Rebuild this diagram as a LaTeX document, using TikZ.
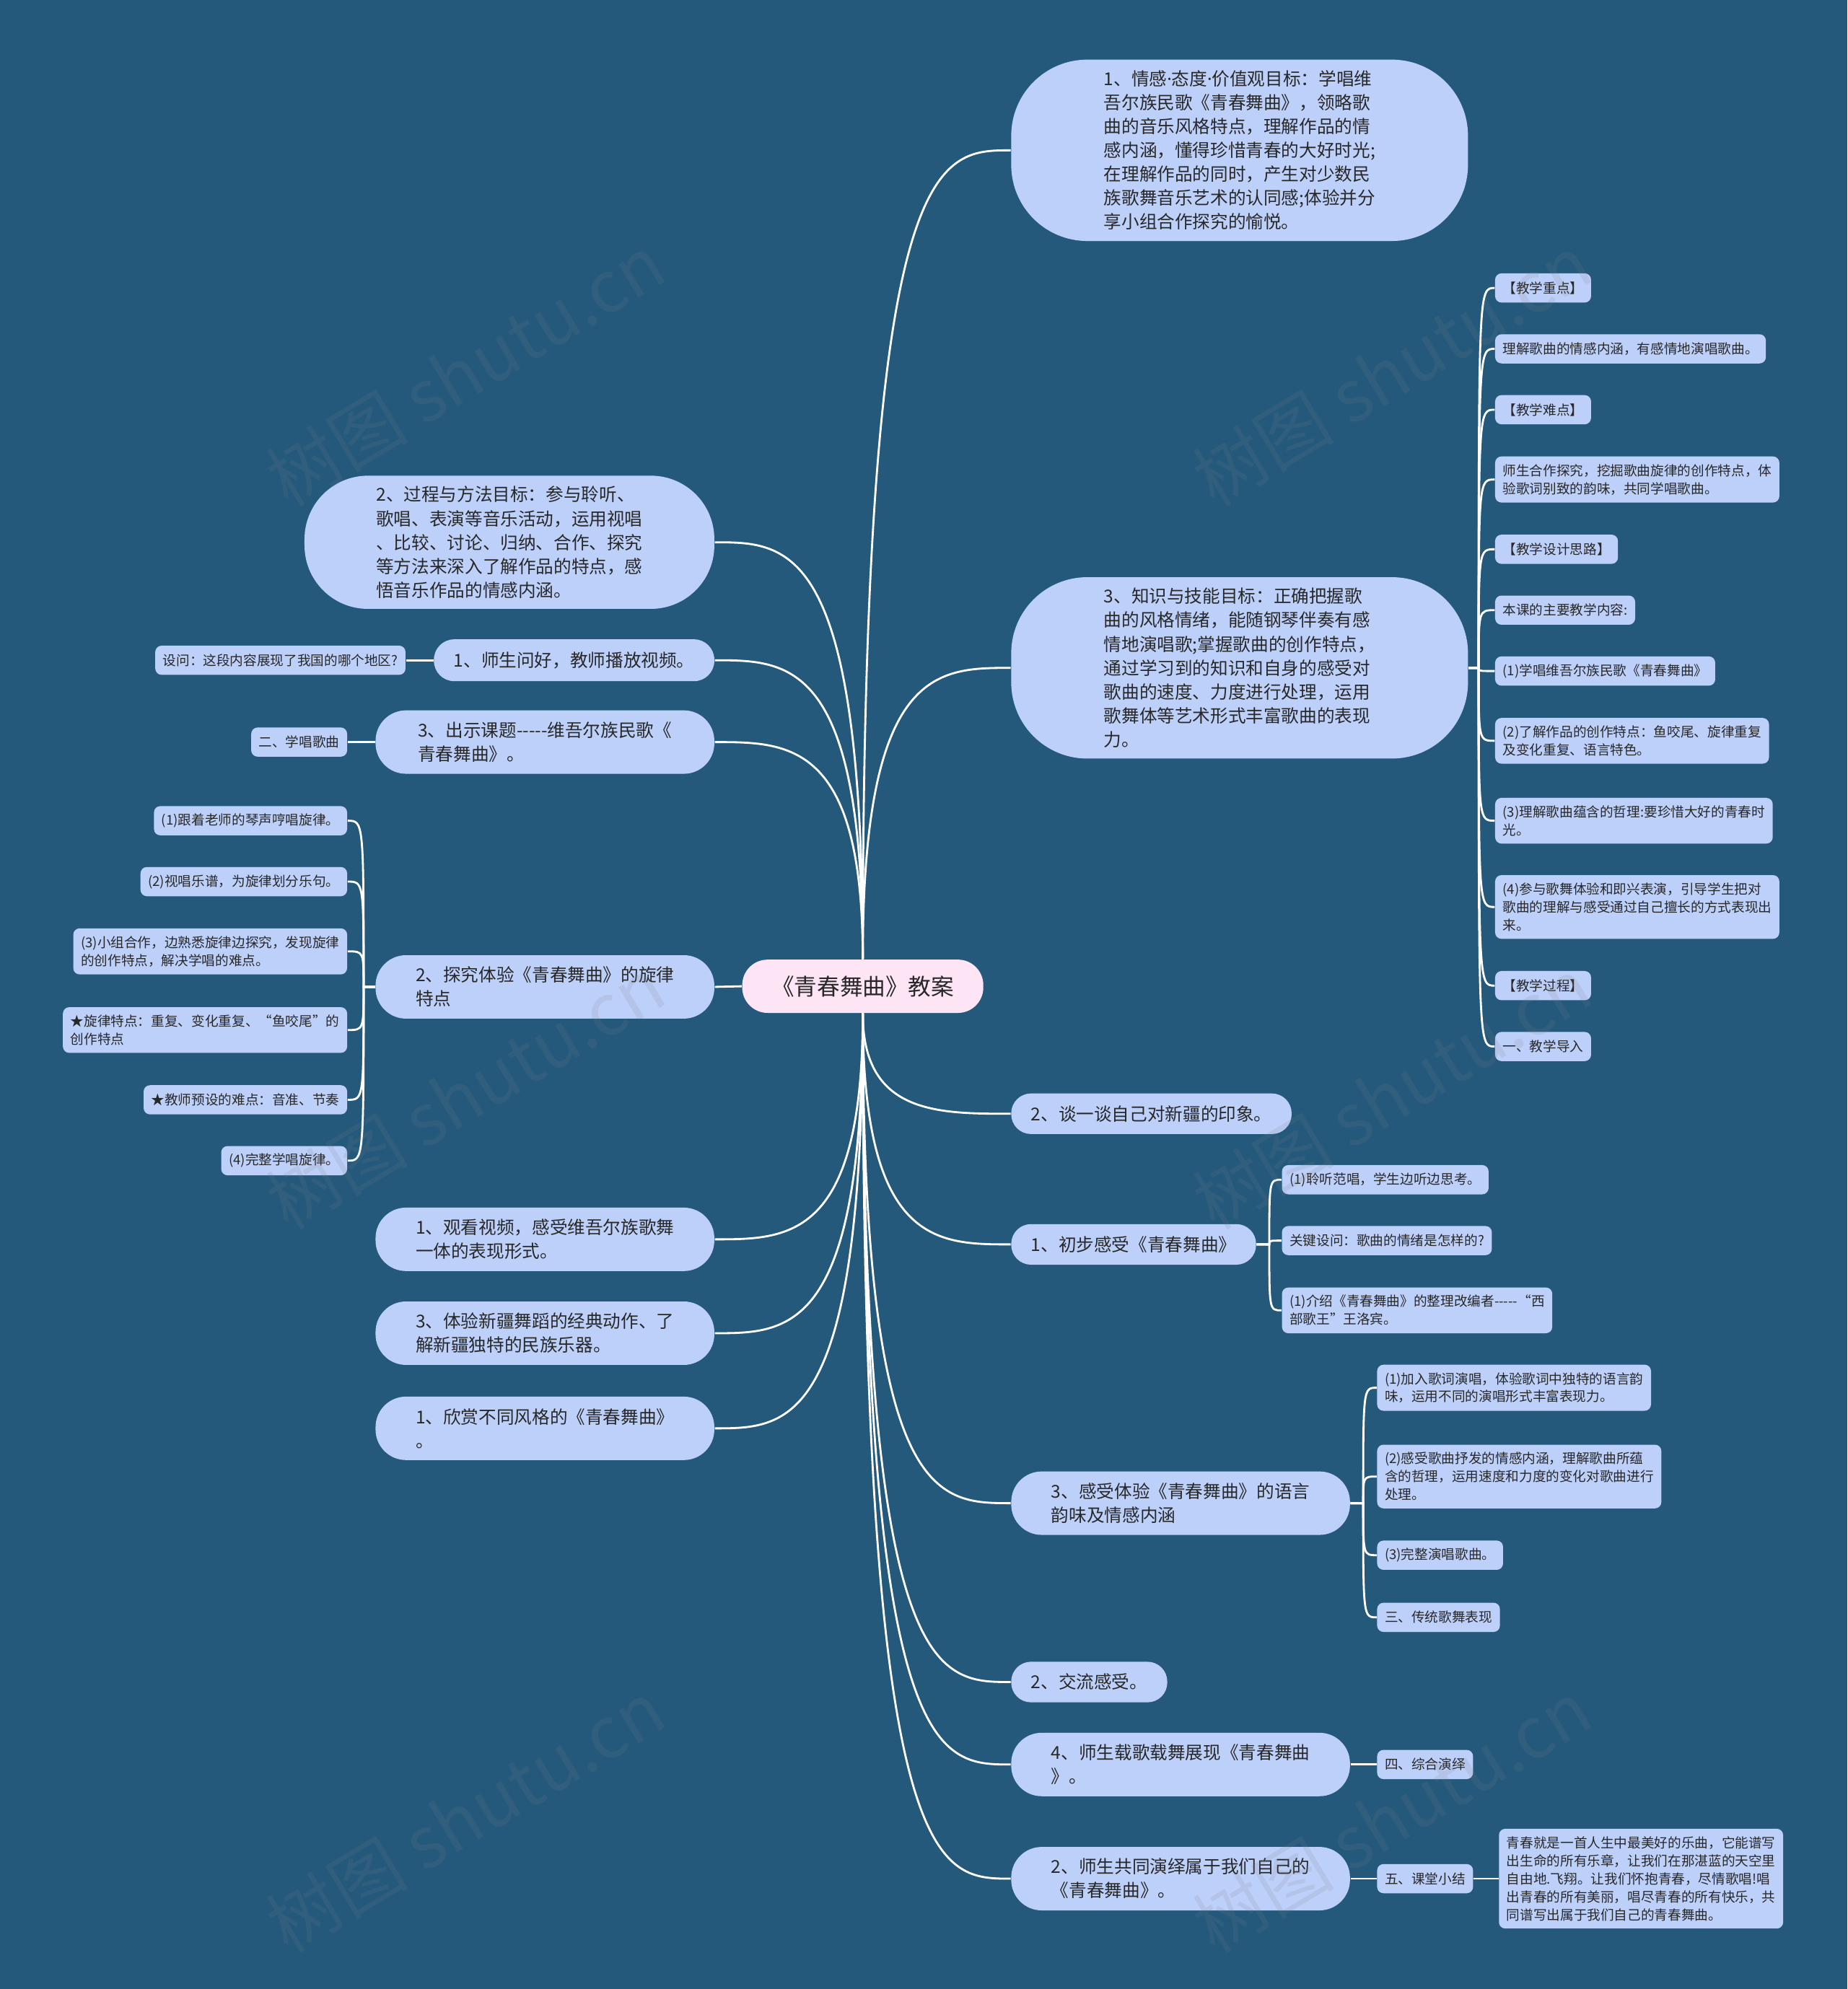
\documentclass[tikz,border=0pt]{standalone}
\usepackage{fontspec}
\setmainfont{Noto Sans CJK SC}
\newfontfamily\latinf{Noto Sans}
\usetikzlibrary{calc}
\definecolor{bgc}{RGB}{36,89,124}
\definecolor{nodec}{RGB}{189,208,250}
\definecolor{centc}{RGB}{253,229,245}
\definecolor{txtc}{RGB}{40,40,40}
\newcommand\myBig{\fontsize{7pt}{9.4pt}\selectfont}
\newcommand\mySmall{\fontsize{5.3pt}{7.1pt}\selectfont}
\newcommand\myCenter{\fontsize{9pt}{11pt}\selectfont}
\newcommand\myWm{\fontsize{28pt}{32pt}\selectfont}
\newcommand\mdot{{\latinf ·}}
\newcommand\hyph{-{}-{}-{}-{}-}
\begin{document}
\begin{tikzpicture}[x=0.5pt,y=-0.5pt,
  link/.style={draw=white,line width=0.8pt},
  big/.style n args={3}{fill=nodec,text=txtc,font=\myBig,align=left,inner sep=0pt,
     minimum width=#1*0.5pt,minimum height=#2*0.5pt,rounded corners=#3},
  small/.style={fill=nodec,text=txtc,font=\mySmall,align=left,inner xsep=3pt,
     inner ysep=3pt,minimum height=11.5pt,rounded corners=2.5pt},
  wm/.style={text=gray,opacity=0.14,font=\myWm,rotate=31}]
\fill[bgc] (0,0) rectangle (1456,1568);
\useasboundingbox (0,0) rectangle (1456,1568);

% centre
\node[big={190}{42}{10pt},fill=centc,font=\myCenter] (c) at (680,777.5) {《青春舞曲》教案};

% right main nodes
\node[big={360}{143}{30pt}] (r1) at (977,118.5) {1、情感\mdot 态度\mdot 价值观目标：学唱维\\吾尔族民歌《青春舞曲》，领略歌\\曲的音乐风格特点，理解作品的情\\感内涵，懂得珍惜青春的大好时光;\\在理解作品的同时，产生对少数民\\族歌舞音乐艺术的认同感;体验并分\\享小组合作探究的愉悦。};
\node[big={360}{143}{30pt}] (r2) at (977,526.5) {3、知识与技能目标：正确把握歌\\曲的风格情绪，能随钢琴伴奏有感\\情地演唱歌;掌握歌曲的创作特点，\\通过学习到的知识和自身的感受对\\歌曲的速度、力度进行处理，运用\\歌舞体等艺术形式丰富歌曲的表现\\力。};
\node[big={221}{32}{7.8pt}] (r3) at (907.5,878) {2、谈一谈自己对新疆的印象。};
\node[big={193}{32}{7.8pt}] (r4) at (893.5,981) {1、初步感受《青春舞曲》};
\node[big={267}{50}{12pt}] (r5) at (930.5,1185) {3、感受体验《青春舞曲》的语言\\韵味及情感内涵};
\node[big={123}{32}{7.8pt}] (r6) at (858.5,1326) {2、交流感受。};
\node[big={267}{50}{12pt}] (r7) at (930.5,1391) {4、师生载歌载舞展现《青春舞曲\\》。};
\node[big={267}{50}{12pt}] (r8) at (930.5,1481) {2、师生共同演绎属于我们自己的\\《青春舞曲》。};

% left main nodes
\node[big={323}{105}{25pt}] (l1) at (401.5,427.5) {2、过程与方法目标：参与聆听、\\歌唱、表演等音乐活动，运用视唱\\、比较、讨论、归纳、合作、探究\\等方法来深入了解作品的特点，感\\悟音乐作品的情感内涵。};
\node[big={221}{33}{8pt}] (l2) at (452.5,520.5) {1、师生问好，教师播放视频。};
\node[big={267}{50}{12pt}] (l3) at (429.5,585) {3、出示课题\hyph 维吾尔族民歌《\\青春舞曲》。};
\node[big={267}{50}{12pt}] (l4) at (429.5,778) {2、探究体验《青春舞曲》的旋律\\特点};
\node[big={267}{50}{12pt}] (l5) at (429.5,977) {1、观看视频，感受维吾尔族歌舞\\一体的表现形式。};
\node[big={267}{50}{12pt}] (l6) at (429.5,1051) {3、体验新疆舞蹈的经典动作、了\\解新疆独特的民族乐器。};
\node[big={267}{50}{12pt}] (l7) at (429.5,1126) {1、欣赏不同风格的《青春舞曲》\\。};

% children of r2
\node[small,anchor=west] (a1) at (1178,227) {【教学重点】};
\node[small,anchor=west] (a2) at (1178,275) {理解歌曲的情感内涵，有感情地演唱歌曲。};
\node[small,anchor=west] (a3) at (1178,323) {【教学难点】};
\node[small,anchor=west] (a4) at (1178,378) {师生合作探究，挖掘歌曲旋律的创作特点，体\\验歌词别致的韵味，共同学唱歌曲。};
\node[small,anchor=west] (a5) at (1178,433) {【教学设计思路】};
\node[small,anchor=west] (a6) at (1178,481) {本课的主要教学内容:};
\node[small,anchor=west] (a7) at (1178,529) {(1)学唱维吾尔族民歌《青春舞曲》};
\node[small,anchor=west] (a8) at (1178,584) {(2)了解作品的创作特点：鱼咬尾、旋律重复\\及变化重复、语言特色。};
\node[small,anchor=west] (a9) at (1178,647) {(3)理解歌曲蕴含的哲理:要珍惜大好的青春时\\光。};
\node[small,anchor=west] (a10) at (1178,715) {(4)参与歌舞体验和即兴表演，引导学生把对\\歌曲的理解与感受通过自己擅长的方式表现出\\来。};
\node[small,anchor=west] (a11) at (1178,777) {【教学过程】};
\node[small,anchor=west] (a12) at (1178,825) {一、教学导入};

% children of l2, l3
\node[small,anchor=east] (q1) at (320,520.5) {设问：这段内容展现了我国的哪个地区?};
\node[small,anchor=east] (q2) at (274,585) {二、学唱歌曲};

% children of l4
\node[small,anchor=east] (b1) at (274,647) {(1)跟着老师的琴声哼唱旋律。};
\node[small,anchor=east] (b2) at (274,695) {(2)视唱乐谱，为旋律划分乐句。};
\node[small,anchor=east] (b3) at (274,750) {(3)小组合作，边熟悉旋律边探究，发现旋律\\的创作特点，解决学唱的难点。};
\node[small,anchor=east] (b4) at (274,812) {★旋律特点：重复、变化重复、“鱼咬尾”的\\创作特点};
\node[small,anchor=east] (b5) at (274,867) {★教师预设的难点：音准、节奏};
\node[small,anchor=east] (b6) at (274,915) {(4)完整学唱旋律。};

% children of r4
\node[small,anchor=west] (d1) at (1010,930) {(1)聆听范唱，学生边听边思考。};
\node[small,anchor=west] (d2) at (1010,978) {关键设问：歌曲的情绪是怎样的?};
\node[small,anchor=west] (d3) at (1010,1033) {(1)介绍《青春舞曲》的整理改编者\hyph “西\\部歌王”王洛宾。};

% children of r5
\node[small,anchor=west] (e1) at (1085,1094) {(1)加入歌词演唱，体验歌词中独特的语言韵\\味，运用不同的演唱形式丰富表现力。};
\node[small,anchor=west] (e2) at (1085,1164) {(2)感受歌曲抒发的情感内涵，理解歌曲所蕴\\含的哲理，运用速度和力度的变化对歌曲进行\\处理。};
\node[small,anchor=west] (e3) at (1085,1226) {(3)完整演唱歌曲。};
\node[small,anchor=west] (e4) at (1085,1275) {三、传统歌舞表现};

% children of r7, r8
\node[small,anchor=west] (f1) at (1085,1391) {四、综合演绎};
\node[small,anchor=west] (g1) at (1085,1481) {五、课堂小结};
\node[small,anchor=west] (g2) at (1181,1481) {青春就是一首人生中最美好的乐曲，它能谱写\\出生命的所有乐章，让我们在那湛蓝的天空里\\自由地.飞翔。让我们怀抱青春，尽情歌唱!唱\\出青春的所有美丽，唱尽青春的所有快乐，共\\同谱写出属于我们自己的青春舞曲。};

% connectors from centre
\foreach \n in {r1,r2}
  \draw[link] (c.north) .. controls (c.north |- \n.west) and ($(c.north |- \n.west)!0.5!(\n.west)$) .. (\n.west);
\foreach \n in {l1,l2,l3}
  \draw[link] (c.north) .. controls (c.north |- \n.east) and ($(c.north |- \n.east)!0.5!(\n.east)$) .. (\n.east);
\foreach \n in {r3,r4,r5,r6,r7,r8}
  \draw[link] (c.south) .. controls (c.south |- \n.west) and ($(c.south |- \n.west)!0.5!(\n.west)$) .. (\n.west);
\foreach \n in {l5,l6,l7}
  \draw[link] (c.south) .. controls (c.south |- \n.east) and ($(c.south |- \n.east)!0.5!(\n.east)$) .. (\n.east);
\draw[link] (c.west) -- (l4.east);

% bracket connectors
\coordinate (r2t) at ($(r2.east)+(8,0)$);
\foreach \n in {a1,a2,a3,a4,a5,a6,a7,a8,a9,a10,a11,a12}
  \draw[link] (r2.east) -- (r2t) .. controls (r2t |- \n.west) .. (\n.west);
\coordinate (l4t) at ($(l4.west)+(-9,0)$);
\foreach \n in {b1,b2,b3,b4,b5,b6}
  \draw[link] (l4.west) -- (l4t) .. controls (l4t |- \n.east) .. (\n.east);
\coordinate (r4t) at ($(r4.east)+(10,0)$);
\foreach \n in {d1,d2,d3}
  \draw[link] (r4.east) -- (r4t) .. controls (r4t |- \n.west) .. (\n.west);
\coordinate (r5t) at ($(r5.east)+(10,0)$);
\foreach \n in {e1,e2,e3,e4}
  \draw[link] (r5.east) -- (r5t) .. controls (r5t |- \n.west) .. (\n.west);
\draw[link] (l2.west) -- (q1.east);
\draw[link] (l3.west) -- (q2.east);
\draw[link] (r7.east) -- (f1.west);
\draw[link] (r8.east) -- (g1.west);
\draw[link] (g1.east) -- (g2.west);

% watermarks
\foreach \p [count=\i] in {(367,292),(1097,292),(367,862),(1097,862),(367,1432),(1097,1432)}
  \node[wm] (wm\i) at \p {树图 shutu.cn};
\end{tikzpicture}
\end{document}
